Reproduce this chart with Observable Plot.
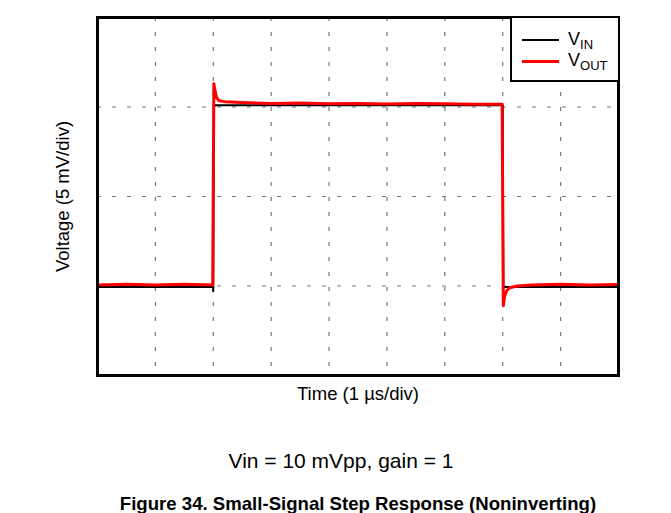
<!DOCTYPE html>
<html>
<head>
<meta charset="utf-8">
<script src="https://cdn.jsdelivr.net/npm/d3@7"></script>
<script src="https://cdn.jsdelivr.net/npm/@observablehq/plot@0.6"></script>
<style>
  html, body { margin: 0; padding: 0; background: #fff; }
  body { width: 671px; height: 513px; position: relative; overflow: hidden; font-family: "Liberation Sans", Arial, sans-serif; color: #000; }
  #chart { position: absolute; left: 0; top: 0; }
  .topline { position: absolute; left: 0; top: 8px; width: 660px; border-top: 2px solid #000; }
  .legend { position: absolute; left: 510px; top: 16px; width: 106px; height: 62px; background: #fff; border: 2.5px solid #000; box-sizing: content-box; }
  .legend .row { position: absolute; left: 0; height: 20px; }
  .legend .sw { position: absolute; left: 10px; width: 37px; }
  .legend .lab { position: absolute; left: 56px; font-size: 18px; line-height: 20px; white-space: nowrap; }
  .legend .lab sub { font-size: 13px; vertical-align: -4px; line-height: 0; }
  .sub { position: absolute; left: 0; width: 682px; top: 449px; line-height: 24px; text-align: center; font-size: 21px; }
  .cap { position: absolute; left: 0; width: 716px; top: 495px; line-height: 18px; text-align: center; font-size: 18.6px; font-weight: bold; }
</style>
</head>
<body>
<div class="topline"></div>
<div id="chart"></div>
<div class="legend">
  <div class="row" style="top:11px;"><div class="sw" style="top:10px;border-top:2px solid #000;"></div><div class="lab">V<sub>IN</sub></div></div>
  <div class="row" style="top:32px;"><div class="sw" style="top:10px;border-top:3px solid #ff0000;"></div><div class="lab">V<sub>OUT</sub></div></div>
</div>
<div class="sub">Vin = 10 mVpp, gain = 1</div>
<div class="cap">Figure 34. Small-Signal Step Response (Noninverting)</div>
<script>
// Time in µs (1 µs/div), voltage in mV (5 mV/div)
const vinTime = [0, 0.5, 1, 1.5, 1.995, 2.0, 2.01, 2.03, 2.5, 3, 4, 5, 6, 6.5, 6.99, 7.0, 7.01, 7.04, 7.5, 8, 8.5, 9];
const vinVolt = [-5.05, -5.05, -5.05, -5.05, -5.05, -5.3, 5.0, 5.1, 5.1, 5.1, 5.1, 5.1, 5.1, 5.1, 5.1, 5.1, -5.1, -5.05, -5.05, -5.05, -5.05, -5.05];

const voutTime = [0, 0.5, 1, 1.5, 1.99, 2.01, 2.03, 2.06, 2.1, 2.2, 2.5, 3, 3.5, 4, 4.5, 5, 5.5, 6, 6.5, 6.99, 7.01, 7.03, 7.07, 7.12, 7.25, 7.5, 8, 8.5, 9];
const voutVolt = [-4.95, -4.9, -4.95, -4.9, -4.95, 6.3, 5.9, 5.5, 5.35, 5.3, 5.25, 5.2, 5.22, 5.18, 5.2, 5.17, 5.2, 5.18, 5.15, 5.15, -6.1, -5.6, -5.25, -5.1, -5.0, -4.95, -4.9, -4.95, -4.92];

const xGrid = [1, 2, 3, 4, 5, 6, 7, 8];
const yGrid = [-5, 0, 5];
const xLabel = "Time (1 µs/div)";
const yLabel = "Voltage (5 mV/div)";

const vin = vinTime.map((t, i) => ({t, v: vinVolt[i]}));
const vout = voutTime.map((t, i) => ({t, v: voutVolt[i]}));

const chart = Plot.plot({
  width: 671,
  height: 420,
  marginLeft: 97,
  marginRight: 53,
  marginTop: 17,
  marginBottom: 45,
  style: {fontFamily: "Liberation Sans, Arial, sans-serif", background: "#fff"},
  x: {domain: [0, 9], axis: null},
  y: {domain: [-10, 10], axis: null},
  marks: [
    Plot.gridX(xGrid, {stroke: "#777", strokeOpacity: 1, strokeWidth: 1.2, strokeDasharray: "4,11"}),
    Plot.gridY(yGrid, {stroke: "#777", strokeOpacity: 1, strokeWidth: 1.2, strokeDasharray: "4,11"}),
    Plot.line(vin, {x: "t", y: "v", stroke: "#000", strokeWidth: 2}),
    Plot.line(vout, {x: "t", y: "v", stroke: "#ff0000", strokeWidth: 3}),
    Plot.frame({stroke: "#000", strokeWidth: 3}),
    Plot.text([xLabel], {frameAnchor: "bottom", dy: 24, fontSize: 18.5}),
    Plot.text([yLabel], {frameAnchor: "left", dx: -34, rotate: -90, textAnchor: "middle", fontSize: 18.5})
  ]
});
document.getElementById("chart").appendChild(chart);
</script>
</body>
</html>
